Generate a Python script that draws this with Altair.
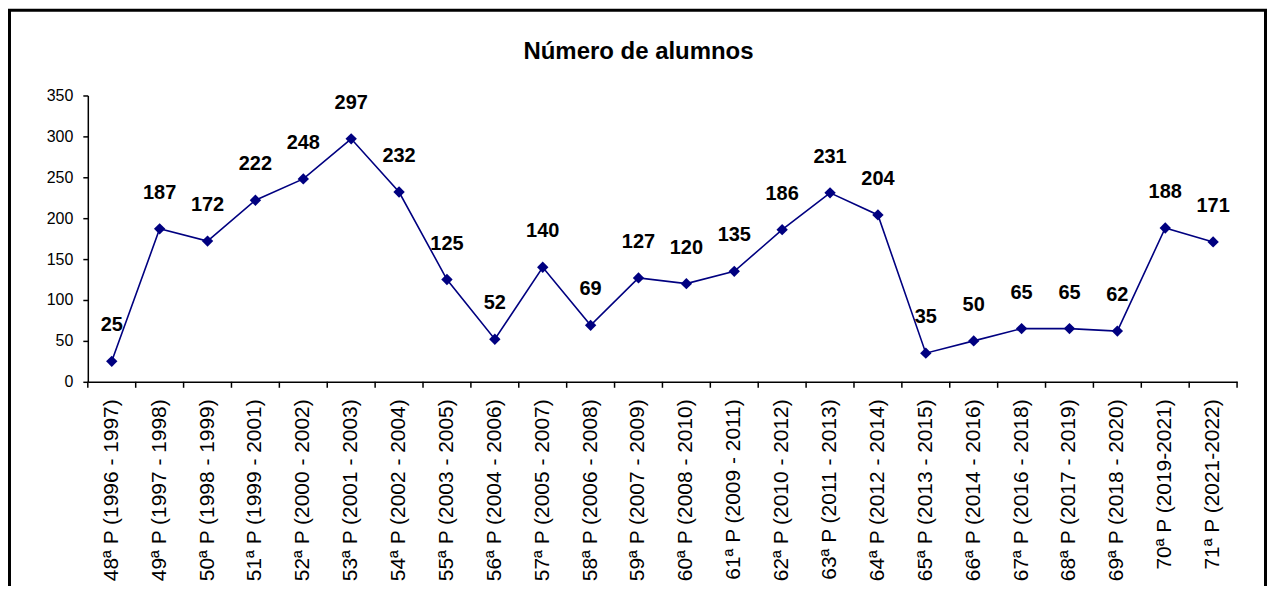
import altair as alt
import pandas as pd

categories = [
    "48ª P (1996 - 1997)", "49ª P (1997 - 1998)", "50ª P (1998 - 1999)",
    "51ª P (1999 - 2001)", "52ª P (2000 - 2002)", "53ª P (2001 - 2003)",
    "54ª P (2002 - 2004)", "55ª P (2003 - 2005)", "56ª P (2004 - 2006)",
    "57ª P (2005 - 2007)", "58ª P (2006 - 2008)", "59ª P (2007 - 2009)",
    "60ª P (2008 - 2010)", "61ª P (2009 - 2011)", "62ª P (2010 - 2012)",
    "63ª P (2011 - 2013)", "64ª P (2012 - 2014)", "65ª P (2013 - 2015)",
    "66ª P (2014 - 2016)", "67ª P (2016 - 2018)", "68ª P (2017 - 2019)",
    "69ª P (2018 - 2020)", "70ª P (2019-2021)", "71ª P (2021-2022)",
]
values = [25, 187, 172, 222, 248, 297, 232, 125, 52, 140, 69, 127,
          120, 135, 186, 231, 204, 35, 50, 65, 65, 62, 188, 171]
y_ticks = [0, 50, 100, 150, 200, 250, 300, 350]
title_text = "Número de alumnos"

df = pd.DataFrame({"cat": categories, "val": values})

FONT = "Liberation Sans"
NAVY = "#000080"
W, H = 1152, 287

xscale = alt.Scale(type="band", paddingInner=0, paddingOuter=0, domain=categories)
yscale = alt.Scale(domain=[0, 350], nice=False, zero=True)

base = alt.Chart(df)

line = base.mark_line(color=NAVY, strokeWidth=1.6).encode(
    x=alt.X("cat:N", scale=xscale, sort=None,
            axis=alt.Axis(title=None, labelAngle=270, labelFontSize=21, labelFont=FONT,
                          labelColor="black", ticks=False, domainColor="black",
                          domainWidth=1.5, labelPadding=17, labelOverlap=False,
                          labelLimit=300)),
    y=alt.Y("val:Q", scale=yscale,
            axis=alt.Axis(title=None, values=y_ticks, grid=False, labelFontSize=16,
                          labelFont=FONT, labelColor="black", tickColor="black",
                          tickSize=5, tickWidth=1.5, domainColor="black", domainWidth=1.5,
                          labelPadding=10)),
)

points = base.mark_point(shape="diamond", filled=True, size=130, color=NAVY, opacity=1).encode(
    x=alt.X("cat:N", scale=xscale, sort=None),
    y=alt.Y("val:Q", scale=yscale),
)

labels = base.mark_text(fontSize=20, fontWeight="bold", font=FONT, color="black",
                        dy=-36, baseline="middle", align="center").encode(
    x=alt.X("cat:N", scale=xscale, sort=None),
    y=alt.Y("val:Q", scale=yscale),
    text=alt.Text("val:Q"),
)

ticks = base.mark_rule(color="black", strokeWidth=1.5).encode(
    x=alt.X("cat:N", scale=xscale, sort=None, bandPosition=0),
    y=alt.value(H),
    y2=alt.value(H + 6),
)

single = pd.DataFrame({"t": [title_text]})

last_tick = alt.Chart(single).mark_rule(color="black", strokeWidth=1.5).encode(
    x=alt.value(W), y=alt.value(H), y2=alt.value(H + 6),
)

frame = alt.Chart(single).mark_rect(
    fill="transparent", stroke="black", strokeWidth=3
).encode(
    x=alt.value(-78.5), x2=alt.value(W + 28.5),
    y=alt.value(-85.5), y2=alt.value(H + 300),
)

title = alt.Chart(single).mark_text(
    font=FONT, fontSize=24, fontWeight="bold", color="black",
    align="center", baseline="alphabetic"
).encode(
    x=alt.value(W / 2 - 24), y=alt.value(-37), text="t:N",
)

chart = alt.layer(frame, title, line, points, labels, ticks, last_tick).properties(
    width=W, height=H,
    padding={"left": 80, "top": 87, "right": 30, "bottom": 204},
    autosize=alt.AutoSizeParams(type="none"),
    background="white",
).configure_view(stroke=None)

chart.save("out.html", embed_options={"renderer": "svg", "actions": False})
